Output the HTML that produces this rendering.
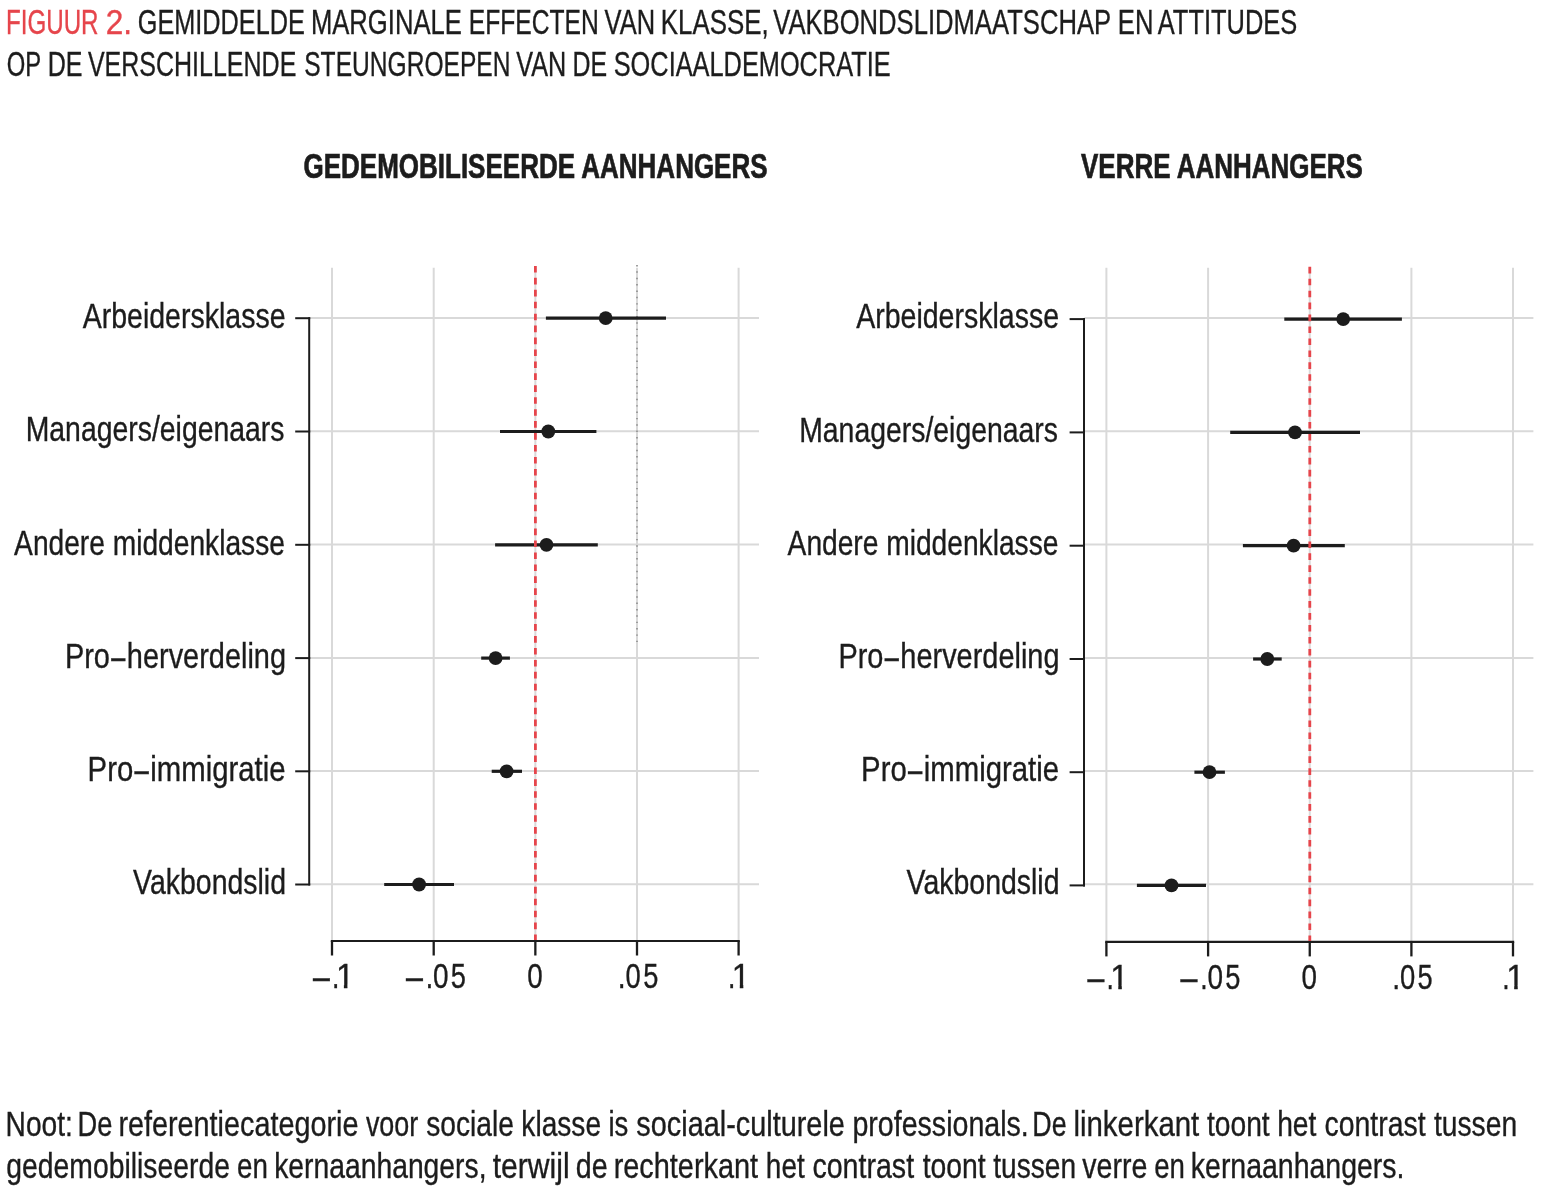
<!DOCTYPE html>
<html><head><meta charset="utf-8"><title>Figuur 2</title>
<style>
html,body{margin:0;padding:0;background:#fff;}
body{width:1547px;height:1194px;overflow:hidden;}
svg{display:block;will-change:transform;font-family:"Liberation Sans",Arial,sans-serif;}
</style></head><body>
<svg width="1547" height="1194" viewBox="0 0 1547 1194">
<defs><clipPath id="cGL2"><rect x="330.94" y="948.10" width="40" height="36.58"/><rect x="343.90" y="984.18" width="3.50" height="6"/></clipPath><clipPath id="cGR2"><rect x="1105.34" y="948.90" width="40" height="36.58"/><rect x="1118.30" y="984.98" width="3.50" height="6"/></clipPath><clipPath id="cGL12"><rect x="726.84" y="948.10" width="40" height="36.58"/><rect x="739.80" y="984.18" width="3.50" height="6"/></clipPath><clipPath id="cGR12"><rect x="1501.24" y="948.90" width="40" height="36.58"/><rect x="1514.20" y="984.98" width="3.50" height="6"/></clipPath></defs>
<rect width="1547" height="1194" fill="#fff"/>
<line x1="332.00" y1="267.7" x2="332.00" y2="941" stroke="#d9d9d9" stroke-width="2"/>
<line x1="433.70" y1="267.7" x2="433.70" y2="941" stroke="#d9d9d9" stroke-width="2"/>
<line x1="535.35" y1="267.7" x2="535.35" y2="941" stroke="#d9d9d9" stroke-width="2"/>
<line x1="637.00" y1="267.7" x2="637.00" y2="941" stroke="#d9d9d9" stroke-width="2"/>
<line x1="738.60" y1="267.7" x2="738.60" y2="941" stroke="#d9d9d9" stroke-width="2"/>
<line x1="310" y1="318.00" x2="759" y2="318.00" stroke="#d9d9d9" stroke-width="2" transform="translate(0,0)"/>
<line x1="310" y1="431.30" x2="759" y2="431.30" stroke="#d9d9d9" stroke-width="2" transform="translate(0,0)"/>
<line x1="310" y1="544.60" x2="759" y2="544.60" stroke="#d9d9d9" stroke-width="2" transform="translate(0,0)"/>
<line x1="310" y1="657.90" x2="759" y2="657.90" stroke="#d9d9d9" stroke-width="2" transform="translate(0,0)"/>
<line x1="310" y1="771.10" x2="759" y2="771.10" stroke="#d9d9d9" stroke-width="2" transform="translate(0,0)"/>
<line x1="310" y1="884.30" x2="759" y2="884.30" stroke="#d9d9d9" stroke-width="2" transform="translate(0,0)"/>
<line x1="637.0" y1="265" x2="637.0" y2="642" stroke="#969696" stroke-width="1.8" stroke-dasharray="1.4 4.97"/>
<line x1="309.20" y1="317.20" x2="309.20" y2="885.50" stroke="#1c1c1c" stroke-width="2"/>
<line x1="295.20" y1="318.20" x2="310.20" y2="318.20" stroke="#1c1c1c" stroke-width="2"/>
<line x1="295.20" y1="431.50" x2="310.20" y2="431.50" stroke="#1c1c1c" stroke-width="2"/>
<line x1="295.20" y1="544.80" x2="310.20" y2="544.80" stroke="#1c1c1c" stroke-width="2"/>
<line x1="295.20" y1="658.10" x2="310.20" y2="658.10" stroke="#1c1c1c" stroke-width="2"/>
<line x1="295.20" y1="771.30" x2="310.20" y2="771.30" stroke="#1c1c1c" stroke-width="2"/>
<line x1="295.20" y1="884.50" x2="310.20" y2="884.50" stroke="#1c1c1c" stroke-width="2"/>
<line x1="330.80" y1="941.00" x2="739.80" y2="941.00" stroke="#1c1c1c" stroke-width="2.2"/>
<line x1="332.00" y1="941.00" x2="332.00" y2="955.50" stroke="#1c1c1c" stroke-width="2.3"/>
<line x1="433.70" y1="941.00" x2="433.70" y2="955.50" stroke="#1c1c1c" stroke-width="2.3"/>
<line x1="535.35" y1="941.00" x2="535.35" y2="955.50" stroke="#1c1c1c" stroke-width="2.3"/>
<line x1="637.00" y1="941.00" x2="637.00" y2="955.50" stroke="#1c1c1c" stroke-width="2.3"/>
<line x1="738.60" y1="941.00" x2="738.60" y2="955.50" stroke="#1c1c1c" stroke-width="2.3"/>
<line x1="545.90" y1="318.20" x2="666.00" y2="318.20" stroke="#1c1c1c" stroke-width="3.2"/>
<circle cx="605.70" cy="318.20" r="6.9" fill="#1c1c1c"/>
<line x1="500.00" y1="431.50" x2="596.40" y2="431.50" stroke="#1c1c1c" stroke-width="3.2"/>
<circle cx="548.30" cy="431.50" r="6.9" fill="#1c1c1c"/>
<line x1="495.10" y1="544.80" x2="597.80" y2="544.80" stroke="#1c1c1c" stroke-width="3.2"/>
<circle cx="546.50" cy="544.80" r="6.9" fill="#1c1c1c"/>
<line x1="481.20" y1="658.10" x2="509.90" y2="658.10" stroke="#1c1c1c" stroke-width="3.2"/>
<circle cx="495.60" cy="658.10" r="6.9" fill="#1c1c1c"/>
<line x1="491.70" y1="771.30" x2="522.00" y2="771.30" stroke="#1c1c1c" stroke-width="3.2"/>
<circle cx="506.60" cy="771.30" r="6.9" fill="#1c1c1c"/>
<line x1="384.20" y1="884.50" x2="454.00" y2="884.50" stroke="#1c1c1c" stroke-width="3.2"/>
<circle cx="419.10" cy="884.50" r="6.9" fill="#1c1c1c"/>
<line x1="535.40" y1="265.90" x2="535.40" y2="940.00" stroke="#e6454b" stroke-width="2.8" stroke-dasharray="6.6 5.34"/>
<line x1="1106.40" y1="267.7" x2="1106.40" y2="941" stroke="#d9d9d9" stroke-width="2"/>
<line x1="1208.10" y1="267.7" x2="1208.10" y2="941" stroke="#d9d9d9" stroke-width="2"/>
<line x1="1309.75" y1="267.7" x2="1309.75" y2="941" stroke="#d9d9d9" stroke-width="2"/>
<line x1="1411.40" y1="267.7" x2="1411.40" y2="941" stroke="#d9d9d9" stroke-width="2"/>
<line x1="1513.00" y1="267.7" x2="1513.00" y2="941" stroke="#d9d9d9" stroke-width="2"/>
<line x1="310" y1="318.00" x2="759" y2="318.00" stroke="#d9d9d9" stroke-width="2" transform="translate(774.4,0)"/>
<line x1="310" y1="431.30" x2="759" y2="431.30" stroke="#d9d9d9" stroke-width="2" transform="translate(774.4,0)"/>
<line x1="310" y1="544.60" x2="759" y2="544.60" stroke="#d9d9d9" stroke-width="2" transform="translate(774.4,0)"/>
<line x1="310" y1="657.90" x2="759" y2="657.90" stroke="#d9d9d9" stroke-width="2" transform="translate(774.4,0)"/>
<line x1="310" y1="771.10" x2="759" y2="771.10" stroke="#d9d9d9" stroke-width="2" transform="translate(774.4,0)"/>
<line x1="310" y1="884.30" x2="759" y2="884.30" stroke="#d9d9d9" stroke-width="2" transform="translate(774.4,0)"/>
<line x1="1084.00" y1="318.10" x2="1084.00" y2="886.40" stroke="#1c1c1c" stroke-width="2"/>
<line x1="1069.60" y1="319.10" x2="1085.00" y2="319.10" stroke="#1c1c1c" stroke-width="2"/>
<line x1="1069.60" y1="432.40" x2="1085.00" y2="432.40" stroke="#1c1c1c" stroke-width="2"/>
<line x1="1069.60" y1="545.70" x2="1085.00" y2="545.70" stroke="#1c1c1c" stroke-width="2"/>
<line x1="1069.60" y1="659.00" x2="1085.00" y2="659.00" stroke="#1c1c1c" stroke-width="2"/>
<line x1="1069.60" y1="772.20" x2="1085.00" y2="772.20" stroke="#1c1c1c" stroke-width="2"/>
<line x1="1069.60" y1="885.40" x2="1085.00" y2="885.40" stroke="#1c1c1c" stroke-width="2"/>
<line x1="1105.20" y1="941.90" x2="1514.20" y2="941.90" stroke="#1c1c1c" stroke-width="2.2"/>
<line x1="1106.40" y1="941.90" x2="1106.40" y2="956.40" stroke="#1c1c1c" stroke-width="2.3"/>
<line x1="1208.10" y1="941.90" x2="1208.10" y2="956.40" stroke="#1c1c1c" stroke-width="2.3"/>
<line x1="1309.75" y1="941.90" x2="1309.75" y2="956.40" stroke="#1c1c1c" stroke-width="2.3"/>
<line x1="1411.40" y1="941.90" x2="1411.40" y2="956.40" stroke="#1c1c1c" stroke-width="2.3"/>
<line x1="1513.00" y1="941.90" x2="1513.00" y2="956.40" stroke="#1c1c1c" stroke-width="2.3"/>
<line x1="1284.30" y1="319.10" x2="1401.90" y2="319.10" stroke="#1c1c1c" stroke-width="3.2"/>
<circle cx="1343.20" cy="319.10" r="6.9" fill="#1c1c1c"/>
<line x1="1230.20" y1="432.40" x2="1360.00" y2="432.40" stroke="#1c1c1c" stroke-width="3.2"/>
<circle cx="1295.00" cy="432.40" r="6.9" fill="#1c1c1c"/>
<line x1="1242.90" y1="545.70" x2="1344.80" y2="545.70" stroke="#1c1c1c" stroke-width="3.2"/>
<circle cx="1293.60" cy="545.70" r="6.9" fill="#1c1c1c"/>
<line x1="1253.10" y1="659.00" x2="1281.70" y2="659.00" stroke="#1c1c1c" stroke-width="3.2"/>
<circle cx="1267.30" cy="659.00" r="6.9" fill="#1c1c1c"/>
<line x1="1194.40" y1="772.20" x2="1224.90" y2="772.20" stroke="#1c1c1c" stroke-width="3.2"/>
<circle cx="1209.50" cy="772.20" r="6.9" fill="#1c1c1c"/>
<line x1="1136.90" y1="885.40" x2="1206.00" y2="885.40" stroke="#1c1c1c" stroke-width="3.2"/>
<circle cx="1171.50" cy="885.40" r="6.9" fill="#1c1c1c"/>
<line x1="1309.80" y1="266.80" x2="1309.80" y2="940.90" stroke="#e6454b" stroke-width="2.8" stroke-dasharray="6.6 5.34"/>
<g fill="#1c1c1c">
<text fill="#e6454b" x="5.91" y="33.80" font-size="34.2" stroke="#e6454b" stroke-width="0.35" textLength="92.63" lengthAdjust="spacingAndGlyphs">FIGUUR</text>
<text fill="#e6454b" x="105.82" y="33.80" font-size="34.2" stroke="#e6454b" stroke-width="0.35" textLength="26.33" lengthAdjust="spacingAndGlyphs">2.</text>
<text x="137.72" y="33.80" font-size="34.2" stroke="#1c1c1c" stroke-width="0.35" textLength="167.15" lengthAdjust="spacingAndGlyphs">GEMIDDELDE</text>
<text x="310.90" y="33.80" font-size="34.2" stroke="#1c1c1c" stroke-width="0.35" textLength="150.98" lengthAdjust="spacingAndGlyphs">MARGINALE</text>
<text x="468.78" y="33.80" font-size="34.2" stroke="#1c1c1c" stroke-width="0.35" textLength="130.03" lengthAdjust="spacingAndGlyphs">EFFECTEN</text>
<text x="604.60" y="33.80" font-size="34.2" stroke="#1c1c1c" stroke-width="0.35" textLength="50.48" lengthAdjust="spacingAndGlyphs">VAN</text>
<text x="660.78" y="33.80" font-size="34.2" stroke="#1c1c1c" stroke-width="0.35" textLength="107.85" lengthAdjust="spacingAndGlyphs">KLASSE,</text>
<text x="773.20" y="33.80" font-size="34.2" stroke="#1c1c1c" stroke-width="0.35" textLength="337.88" lengthAdjust="spacingAndGlyphs">VAKBONDSLIDMAATSCHAP</text>
<text x="1117.80" y="33.80" font-size="34.2" stroke="#1c1c1c" stroke-width="0.35" textLength="35.59" lengthAdjust="spacingAndGlyphs">EN</text>
<text x="1157.80" y="33.80" font-size="34.2" stroke="#1c1c1c" stroke-width="0.35" textLength="139.37" lengthAdjust="spacingAndGlyphs">ATTITUDES</text>
<text x="6.68" y="75.70" font-size="34.2" stroke="#1c1c1c" stroke-width="0.35" textLength="34.42" lengthAdjust="spacingAndGlyphs">OP</text>
<text x="47.64" y="75.70" font-size="34.2" stroke="#1c1c1c" stroke-width="0.35" textLength="34.81" lengthAdjust="spacingAndGlyphs">DE</text>
<text x="87.90" y="75.70" font-size="34.2" stroke="#1c1c1c" stroke-width="0.35" textLength="208.45" lengthAdjust="spacingAndGlyphs">VERSCHILLENDE</text>
<text x="304.23" y="75.70" font-size="34.2" stroke="#1c1c1c" stroke-width="0.35" textLength="206.27" lengthAdjust="spacingAndGlyphs">STEUNGROEPEN</text>
<text x="516.20" y="75.70" font-size="34.2" stroke="#1c1c1c" stroke-width="0.35" textLength="49.96" lengthAdjust="spacingAndGlyphs">VAN</text>
<text x="572.45" y="75.70" font-size="34.2" stroke="#1c1c1c" stroke-width="0.35" textLength="34.59" lengthAdjust="spacingAndGlyphs">DE</text>
<text x="613.71" y="75.70" font-size="34.2" stroke="#1c1c1c" stroke-width="0.35" textLength="276.96" lengthAdjust="spacingAndGlyphs">SOCIAALDEMOCRATIE</text>
<text x="303.49" y="177.80" font-size="34.3" font-weight="bold" stroke="#1c1c1c" stroke-width="0.7" textLength="464.09" lengthAdjust="spacingAndGlyphs">GEDEMOBILISEERDE AANHANGERS</text>
<text x="1081.00" y="177.80" font-size="34.3" font-weight="bold" stroke="#1c1c1c" stroke-width="0.7" textLength="281.78" lengthAdjust="spacingAndGlyphs">VERRE AANHANGERS</text>
<text x="5.60" y="1135.80" font-size="34.2" stroke="#1c1c1c" stroke-width="0.35" textLength="67.24" lengthAdjust="spacingAndGlyphs">Noot:</text>
<text x="77.47" y="1135.80" font-size="34.2" stroke="#1c1c1c" stroke-width="0.35" textLength="34.83" lengthAdjust="spacingAndGlyphs">De</text>
<text x="118.40" y="1135.80" font-size="34.2" stroke="#1c1c1c" stroke-width="0.35" textLength="240.07" lengthAdjust="spacingAndGlyphs">referentiecategorie</text>
<text x="365.90" y="1135.80" font-size="34.2" stroke="#1c1c1c" stroke-width="0.35" textLength="52.33" lengthAdjust="spacingAndGlyphs">voor</text>
<text x="426.16" y="1135.80" font-size="34.2" stroke="#1c1c1c" stroke-width="0.35" textLength="87.68" lengthAdjust="spacingAndGlyphs">sociale</text>
<text x="521.34" y="1135.80" font-size="34.2" stroke="#1c1c1c" stroke-width="0.35" textLength="79.70" lengthAdjust="spacingAndGlyphs">klasse</text>
<text x="608.48" y="1135.80" font-size="34.2" stroke="#1c1c1c" stroke-width="0.35" textLength="19.88" lengthAdjust="spacingAndGlyphs">is</text>
<text x="636.35" y="1135.80" font-size="34.2" stroke="#1c1c1c" stroke-width="0.35" textLength="208.52" lengthAdjust="spacingAndGlyphs">sociaal-culturele</text>
<text x="852.41" y="1135.80" font-size="34.2" stroke="#1c1c1c" stroke-width="0.35" textLength="176.37" lengthAdjust="spacingAndGlyphs">professionals.</text>
<text x="1032.30" y="1135.80" font-size="34.2" stroke="#1c1c1c" stroke-width="0.35" textLength="34.28" lengthAdjust="spacingAndGlyphs">De</text>
<text x="1073.46" y="1135.80" font-size="34.2" stroke="#1c1c1c" stroke-width="0.35" textLength="125.84" lengthAdjust="spacingAndGlyphs">linkerkant</text>
<text x="1207.00" y="1135.80" font-size="34.2" stroke="#1c1c1c" stroke-width="0.35" textLength="62.70" lengthAdjust="spacingAndGlyphs">toont</text>
<text x="1277.14" y="1135.80" font-size="34.2" stroke="#1c1c1c" stroke-width="0.35" textLength="39.16" lengthAdjust="spacingAndGlyphs">het</text>
<text x="1324.51" y="1135.80" font-size="34.2" stroke="#1c1c1c" stroke-width="0.35" textLength="101.09" lengthAdjust="spacingAndGlyphs">contrast</text>
<text x="1434.00" y="1135.80" font-size="34.2" stroke="#1c1c1c" stroke-width="0.35" textLength="83.08" lengthAdjust="spacingAndGlyphs">tussen</text>
<text x="6.31" y="1177.70" font-size="34.2" stroke="#1c1c1c" stroke-width="0.35" textLength="223.63" lengthAdjust="spacingAndGlyphs">gedemobiliseerde</text>
<text x="237.03" y="1177.70" font-size="34.2" stroke="#1c1c1c" stroke-width="0.35" textLength="30.82" lengthAdjust="spacingAndGlyphs">en</text>
<text x="274.23" y="1177.70" font-size="34.2" stroke="#1c1c1c" stroke-width="0.35" textLength="212.28" lengthAdjust="spacingAndGlyphs">kernaanhangers,</text>
<text x="492.70" y="1177.70" font-size="34.2" stroke="#1c1c1c" stroke-width="0.35" textLength="76.99" lengthAdjust="spacingAndGlyphs">terwijl</text>
<text x="575.81" y="1177.70" font-size="34.2" stroke="#1c1c1c" stroke-width="0.35" textLength="31.86" lengthAdjust="spacingAndGlyphs">de</text>
<text x="613.70" y="1177.70" font-size="34.2" stroke="#1c1c1c" stroke-width="0.35" textLength="144.41" lengthAdjust="spacingAndGlyphs">rechterkant</text>
<text x="765.85" y="1177.70" font-size="34.2" stroke="#1c1c1c" stroke-width="0.35" textLength="38.85" lengthAdjust="spacingAndGlyphs">het</text>
<text x="812.41" y="1177.70" font-size="34.2" stroke="#1c1c1c" stroke-width="0.35" textLength="101.70" lengthAdjust="spacingAndGlyphs">contrast</text>
<text x="922.70" y="1177.70" font-size="34.2" stroke="#1c1c1c" stroke-width="0.35" textLength="63.00" lengthAdjust="spacingAndGlyphs">toont</text>
<text x="993.30" y="1177.70" font-size="34.2" stroke="#1c1c1c" stroke-width="0.35" textLength="82.78" lengthAdjust="spacingAndGlyphs">tussen</text>
<text x="1082.30" y="1177.70" font-size="34.2" stroke="#1c1c1c" stroke-width="0.35" textLength="65.06" lengthAdjust="spacingAndGlyphs">verre</text>
<text x="1154.24" y="1177.70" font-size="34.2" stroke="#1c1c1c" stroke-width="0.35" textLength="30.71" lengthAdjust="spacingAndGlyphs">en</text>
<text x="1190.82" y="1177.70" font-size="34.2" stroke="#1c1c1c" stroke-width="0.35" textLength="213.65" lengthAdjust="spacingAndGlyphs">kernaanhangers.</text>
<text x="82.70" y="327.60" font-size="34.2" stroke="#1c1c1c" stroke-width="0.35" textLength="202.86" lengthAdjust="spacingAndGlyphs">Arbeidersklasse</text>
<text x="856.20" y="327.80" font-size="34.2" stroke="#1c1c1c" stroke-width="0.35" textLength="202.86" lengthAdjust="spacingAndGlyphs">Arbeidersklasse</text>
<text x="25.68" y="441.30" font-size="34.2" stroke="#1c1c1c" stroke-width="0.35" textLength="258.80" lengthAdjust="spacingAndGlyphs">Managers/eigenaars</text>
<text x="799.18" y="441.50" font-size="34.2" stroke="#1c1c1c" stroke-width="0.35" textLength="258.80" lengthAdjust="spacingAndGlyphs">Managers/eigenaars</text>
<text x="14.10" y="555.20" font-size="34.2" stroke="#1c1c1c" stroke-width="0.35" textLength="270.84" lengthAdjust="spacingAndGlyphs">Andere middenklasse</text>
<text x="787.60" y="555.40" font-size="34.2" stroke="#1c1c1c" stroke-width="0.35" textLength="270.84" lengthAdjust="spacingAndGlyphs">Andere middenklasse</text>
<text x="64.94" y="667.90" font-size="34.2" stroke="#1c1c1c" stroke-width="0.35" textLength="221.08" lengthAdjust="spacingAndGlyphs">Pro<tspan dy="3.3">−</tspan><tspan dy="-3.3">herverdeling</tspan></text>
<text x="838.44" y="668.10" font-size="34.2" stroke="#1c1c1c" stroke-width="0.35" textLength="221.08" lengthAdjust="spacingAndGlyphs">Pro<tspan dy="3.3">−</tspan><tspan dy="-3.3">herverdeling</tspan></text>
<text x="87.61" y="780.80" font-size="34.2" stroke="#1c1c1c" stroke-width="0.35" textLength="197.98" lengthAdjust="spacingAndGlyphs">Pro<tspan dy="3.3">−</tspan><tspan dy="-3.3">immigratie</tspan></text>
<text x="861.11" y="781.00" font-size="34.2" stroke="#1c1c1c" stroke-width="0.35" textLength="197.98" lengthAdjust="spacingAndGlyphs">Pro<tspan dy="3.3">−</tspan><tspan dy="-3.3">immigratie</tspan></text>
<text x="133.10" y="893.80" font-size="34.2" stroke="#1c1c1c" stroke-width="0.35" textLength="152.90" lengthAdjust="spacingAndGlyphs">Vakbondslid</text>
<text x="906.60" y="894.00" font-size="34.2" stroke="#1c1c1c" stroke-width="0.35" textLength="152.90" lengthAdjust="spacingAndGlyphs">Vakbondslid</text>
<text x="311.58" y="991.40" font-size="34.2" stroke="#1c1c1c" stroke-width="0.35" textLength="20.21" lengthAdjust="spacingAndGlyphs">−</text>
<text x="1085.98" y="992.20" font-size="34.2" stroke="#1c1c1c" stroke-width="0.35" textLength="20.21" lengthAdjust="spacingAndGlyphs">−</text>
<text x="332.03" y="988.10" font-size="34.2" stroke="#1c1c1c" stroke-width="0.35" textLength="7.37" lengthAdjust="spacingAndGlyphs">.</text>
<text x="1106.43" y="988.90" font-size="34.2" stroke="#1c1c1c" stroke-width="0.35" textLength="7.37" lengthAdjust="spacingAndGlyphs">.</text>
<text clip-path="url(#cGL2)" x="335.94" y="988.10" font-size="34.2" stroke="#1c1c1c" stroke-width="0.35" textLength="18.31" lengthAdjust="spacingAndGlyphs">1</text>
<text clip-path="url(#cGR2)" x="1110.34" y="988.90" font-size="34.2" stroke="#1c1c1c" stroke-width="0.35" textLength="18.31" lengthAdjust="spacingAndGlyphs">1</text>
<text x="404.57" y="991.40" font-size="34.2" stroke="#1c1c1c" stroke-width="0.35" textLength="20.32" lengthAdjust="spacingAndGlyphs">−</text>
<text x="1178.97" y="992.20" font-size="34.2" stroke="#1c1c1c" stroke-width="0.35" textLength="20.32" lengthAdjust="spacingAndGlyphs">−</text>
<text x="425.83" y="988.10" font-size="34.2" stroke="#1c1c1c" stroke-width="0.35" textLength="7.37" lengthAdjust="spacingAndGlyphs">.</text>
<text x="1200.23" y="988.90" font-size="34.2" stroke="#1c1c1c" stroke-width="0.35" textLength="7.37" lengthAdjust="spacingAndGlyphs">.</text>
<text x="433.02" y="988.10" font-size="34.2" stroke="#1c1c1c" stroke-width="0.35" textLength="15.57" lengthAdjust="spacingAndGlyphs">0</text>
<text x="1207.42" y="988.90" font-size="34.2" stroke="#1c1c1c" stroke-width="0.35" textLength="15.57" lengthAdjust="spacingAndGlyphs">0</text>
<text x="450.85" y="988.10" font-size="34.2" stroke="#1c1c1c" stroke-width="0.35" textLength="15.16" lengthAdjust="spacingAndGlyphs">5</text>
<text x="1225.25" y="988.90" font-size="34.2" stroke="#1c1c1c" stroke-width="0.35" textLength="15.16" lengthAdjust="spacingAndGlyphs">5</text>
<text x="527.13" y="988.10" font-size="34.2" stroke="#1c1c1c" stroke-width="0.35" textLength="15.46" lengthAdjust="spacingAndGlyphs">0</text>
<text x="1301.53" y="988.90" font-size="34.2" stroke="#1c1c1c" stroke-width="0.35" textLength="15.46" lengthAdjust="spacingAndGlyphs">0</text>
<text x="617.79" y="988.10" font-size="34.2" stroke="#1c1c1c" stroke-width="0.35" textLength="7.87" lengthAdjust="spacingAndGlyphs">.</text>
<text x="1392.19" y="988.90" font-size="34.2" stroke="#1c1c1c" stroke-width="0.35" textLength="7.87" lengthAdjust="spacingAndGlyphs">.</text>
<text x="625.54" y="988.10" font-size="34.2" stroke="#1c1c1c" stroke-width="0.35" textLength="15.24" lengthAdjust="spacingAndGlyphs">0</text>
<text x="1399.94" y="988.90" font-size="34.2" stroke="#1c1c1c" stroke-width="0.35" textLength="15.24" lengthAdjust="spacingAndGlyphs">0</text>
<text x="643.15" y="988.10" font-size="34.2" stroke="#1c1c1c" stroke-width="0.35" textLength="15.16" lengthAdjust="spacingAndGlyphs">5</text>
<text x="1417.55" y="988.90" font-size="34.2" stroke="#1c1c1c" stroke-width="0.35" textLength="15.16" lengthAdjust="spacingAndGlyphs">5</text>
<text x="727.93" y="988.10" font-size="34.2" stroke="#1c1c1c" stroke-width="0.35" textLength="7.37" lengthAdjust="spacingAndGlyphs">.</text>
<text x="1502.33" y="988.90" font-size="34.2" stroke="#1c1c1c" stroke-width="0.35" textLength="7.37" lengthAdjust="spacingAndGlyphs">.</text>
<text clip-path="url(#cGL12)" x="731.84" y="988.10" font-size="34.2" stroke="#1c1c1c" stroke-width="0.35" textLength="18.31" lengthAdjust="spacingAndGlyphs">1</text>
<text clip-path="url(#cGR12)" x="1506.24" y="988.90" font-size="34.2" stroke="#1c1c1c" stroke-width="0.35" textLength="18.31" lengthAdjust="spacingAndGlyphs">1</text>
</g>
</svg>
</body></html>
